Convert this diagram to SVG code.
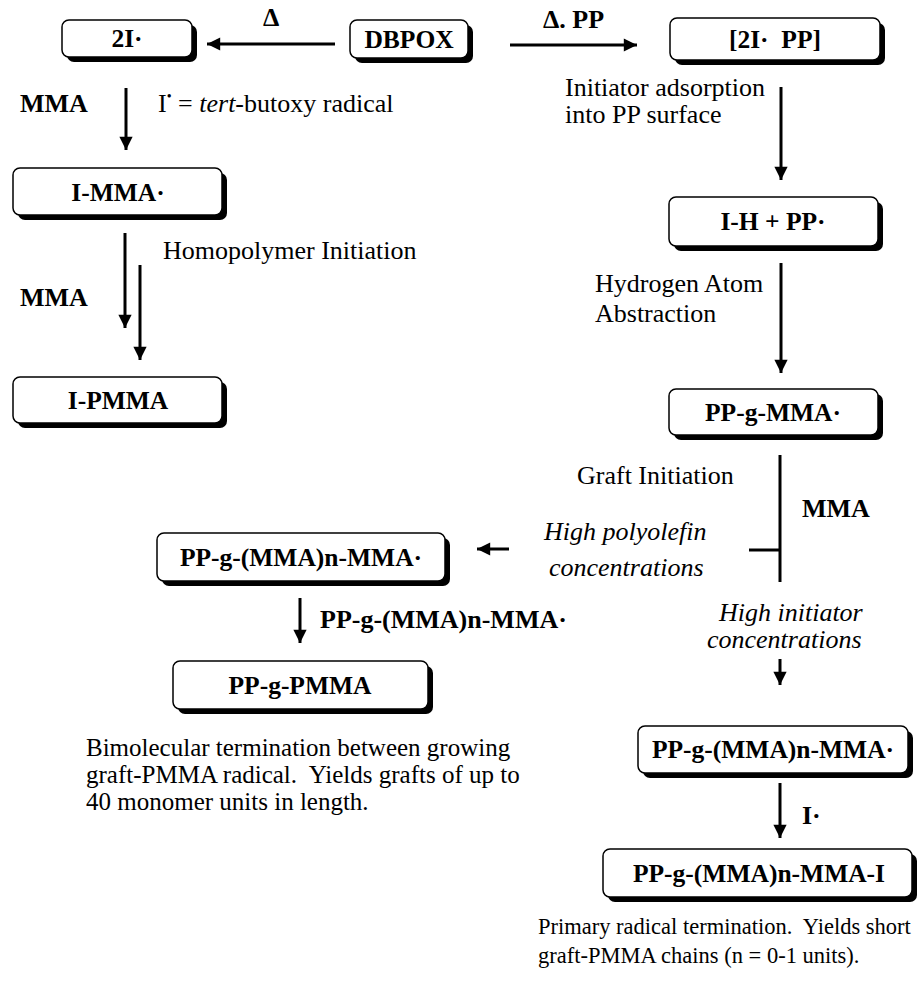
<svg xmlns="http://www.w3.org/2000/svg" width="924" height="991" viewBox="0 0 924 991">
<defs>
<style>
.box{fill:#fff;stroke:#000;stroke-width:1.5}
.sh{fill:#000}
.bt{font-family:"Liberation Serif","Times New Roman",serif;font-weight:bold;font-size:25.5px;text-anchor:middle;fill:#000}
.lb{font-family:"Liberation Serif","Times New Roman",serif;font-weight:bold;font-size:26px;fill:#000}
.tx{font-family:"Liberation Serif","Times New Roman",serif;font-size:26px;fill:#000}
.it{font-family:"Liberation Serif","Times New Roman",serif;font-style:italic;font-size:26px;fill:#000}
.pa{font-family:"Liberation Serif","Times New Roman",serif;font-size:25px;fill:#000}
.pb{font-family:"Liberation Serif","Times New Roman",serif;font-size:22.5px;fill:#000}
.ln{stroke:#000;stroke-width:3;fill:none}
</style>
<marker id="ah" viewBox="0 0 10 10" refX="10" refY="5" markerWidth="4.8" markerHeight="4.4" orient="auto" markerUnits="strokeWidth">
<path d="M0,0 L10,5 L0,10 Z" fill="#000"/>
</marker>
</defs>
<rect width="924" height="991" fill="#fff"/>

<g id="n-2I">
<rect class="sh" x="67" y="25" width="130" height="37" rx="7"/>
<rect class="box" x="62" y="20" width="130" height="37" rx="7"/>
<text class="bt" x="127" y="47">2I·</text>
</g>
<g id="n-DBPOX">
<rect class="sh" x="355" y="25" width="118" height="38" rx="7"/>
<rect class="box" x="350" y="20" width="118" height="38" rx="7"/>
<text class="bt" x="409" y="48">DBPOX</text>
</g>
<g id="n-2IPP">
<rect class="sh" x="675" y="23" width="210" height="42" rx="7"/>
<rect class="box" x="670" y="18" width="210" height="42" rx="7"/>
<text class="bt" x="775" y="48" xml:space="preserve">[2I·  PP]</text>
</g>
<g id="n-IMMA">
<rect class="sh" x="18" y="173" width="209" height="47" rx="7"/>
<rect class="box" x="13" y="168" width="209" height="47" rx="7"/>
<text class="bt" x="118" y="201">I-MMA·</text>
</g>
<g id="n-IPMMA">
<rect class="sh" x="18" y="382" width="209" height="46" rx="7"/>
<rect class="box" x="13" y="377" width="209" height="46" rx="7"/>
<text class="bt" x="118" y="409">I-PMMA</text>
</g>
<g id="n-IHPP">
<rect class="sh" x="674" y="202" width="209" height="49" rx="7"/>
<rect class="box" x="669" y="197" width="209" height="49" rx="7"/>
<text class="bt" x="773" y="230">I-H + PP·</text>
</g>
<g id="n-PPgMMA">
<rect class="sh" x="674" y="394" width="209" height="46" rx="7"/>
<rect class="box" x="669" y="389" width="209" height="46" rx="7"/>
<text class="bt" x="773" y="421">PP-g-MMA·</text>
</g>
<g id="n-PPgMMAn-left">
<rect class="sh" x="162" y="538" width="288" height="48" rx="7"/>
<rect class="box" x="157" y="533" width="288" height="48" rx="7"/>
<text class="bt" x="301" y="566">PP-g-(MMA)n-MMA·</text>
</g>
<g id="n-PPgPMMA">
<rect class="sh" x="178" y="666" width="255" height="48" rx="7"/>
<rect class="box" x="173" y="661" width="255" height="48" rx="7"/>
<text class="bt" x="300" y="694">PP-g-PMMA</text>
</g>
<g id="n-PPgMMAn-right">
<rect class="sh" x="643" y="731" width="270" height="47" rx="7"/>
<rect class="box" x="638" y="726" width="270" height="47" rx="7"/>
<text class="bt" x="773" y="758">PP-g-(MMA)n-MMA·</text>
</g>
<g id="n-PPgMMAnI">
<rect class="sh" x="608" y="854" width="309" height="48" rx="7"/>
<rect class="box" x="603" y="849" width="309" height="48" rx="7"/>
<text class="bt" x="759" y="882">PP-g-(MMA)n-MMA-I</text>
</g>

<g id="connectors">
<line class="ln" x1="335" y1="44" x2="207" y2="44" marker-end="url(#ah)"/>
<line class="ln" x1="510" y1="45" x2="637" y2="45" marker-end="url(#ah)"/>
<line class="ln" x1="126" y1="88" x2="126" y2="150" marker-end="url(#ah)"/>
<line class="ln" x1="125" y1="233" x2="125" y2="328" marker-end="url(#ah)"/>
<line class="ln" x1="140" y1="265" x2="140" y2="360" marker-end="url(#ah)"/>
<line class="ln" x1="781" y1="87" x2="781" y2="180" marker-end="url(#ah)"/>
<line class="ln" x1="781" y1="263" x2="781" y2="373" marker-end="url(#ah)"/>
<line class="ln" x1="780" y1="455" x2="780" y2="582"/>
<line class="ln" x1="749" y1="550" x2="780" y2="550"/>
<line class="ln" x1="509" y1="549" x2="477" y2="549" marker-end="url(#ah)"/>
<line class="ln" x1="300" y1="598" x2="300" y2="643" marker-end="url(#ah)"/>
<line class="ln" x1="780" y1="659" x2="780" y2="685" marker-end="url(#ah)"/>
<line class="ln" x1="780" y1="783" x2="780" y2="838" marker-end="url(#ah)"/>
</g>

<g id="labels">
<text class="lb" x="263" y="26">Δ</text>
<text class="lb" x="543" y="28">Δ. PP</text>
<text class="lb" x="20" y="112">MMA</text>
<text class="tx" x="158" y="112">I<tspan font-size="14" dy="-11">•</tspan><tspan dy="11" xml:space="preserve"> = </tspan><tspan font-style="italic">tert</tspan>-butoxy radical</text>
<text class="tx" x="163" y="259">Homopolymer Initiation</text>
<text class="lb" x="20" y="306">MMA</text>
<text class="tx" x="565" y="96">Initiator adsorption</text>
<text class="tx" x="565" y="123">into PP surface</text>
<text class="tx" x="595" y="292">Hydrogen Atom</text>
<text class="tx" x="595" y="322">Abstraction</text>
<text class="tx" x="577" y="484">Graft Initiation</text>
<text class="lb" x="802" y="517">MMA</text>
<text class="it" x="544" y="540">High polyolefin</text>
<text class="it" x="549" y="576">concentrations</text>
<text class="lb" x="320" y="628">PP-g-(MMA)n-MMA·</text>
<text class="it" x="719" y="621">High initiator</text>
<text class="it" x="707" y="648">concentrations</text>
<text class="lb" x="802" y="824">I·</text>
<text class="pa" x="86" y="756">Bimolecular termination between growing</text>
<text class="pa" x="86" y="783" xml:space="preserve">graft-PMMA radical.  Yields grafts of up to</text>
<text class="pa" x="86" y="810">40 monomer units in length.</text>
<text class="pb" x="538" y="934" xml:space="preserve">Primary radical termination.  Yields short</text>
<text class="pb" x="538" y="963">graft-PMMA chains (n = 0-1 units).</text>
</g>
</svg>
